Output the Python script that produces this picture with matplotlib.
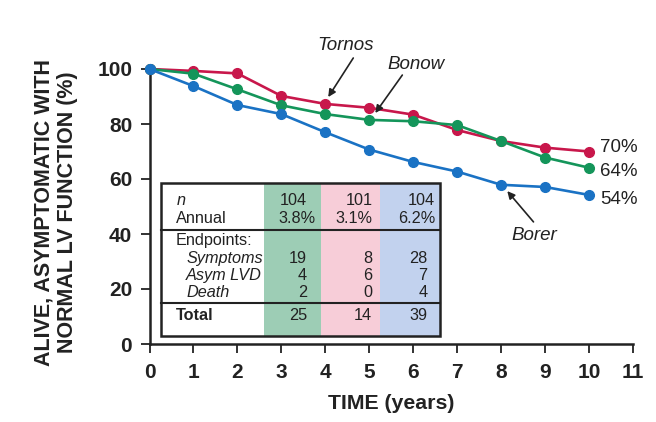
import matplotlib
matplotlib.use("Agg")
import matplotlib.pyplot as plt
from matplotlib.patches import Rectangle

plt.rcParams['font.family'] = ['Liberation Sans', 'DejaVu Sans']

years = [0, 1, 2, 3, 4, 5, 6, 7, 8, 9, 10]
tornos = [100, 99.3, 98.4, 90.2, 87.3, 85.9, 83.4, 77.8, 73.8, 71.4, 70.0]
bonow = [100, 98.3, 92.6, 86.8, 83.6, 81.5, 81.0, 79.6, 73.8, 67.8, 64.1]
borer = [100, 93.8, 86.9, 83.6, 77.0, 70.7, 66.2, 62.7, 57.9, 57.1, 54.2]
end_labels = ["70%", "64%", "54%"]

row_labels = ["n", "Annual", "Endpoints:", "Symptoms", "Asym LVD", "Death", "Total"]
col_n = ["104", "101", "104"]
col_annual = ["3.8%", "3.1%", "6.2%"]
col_symptoms = ["19", "8", "28"]
col_asym = ["4", "6", "7"]
col_death = ["2", "0", "4"]
col_total = ["25", "14", "39"]

c_red = "#c8174b"
c_green = "#14955a"
c_blue = "#1a72c4"
fill_cols = ["#9dcdb5", "#f7cdd8", "#c2d2ee"]
tc = '#222222'

fig = plt.figure(figsize=(6.56, 4.22), dpi=100)
ax = fig.add_axes([149.5/656, 78/422, (633-149.5)/656, (344-69)/422])
ax.set_xlim(0, 11)
ax.set_ylim(0, 100)

for y, c in [(tornos, c_red), (bonow, c_green), (borer, c_blue)]:
    ax.plot(years, y, color=c, lw=1.9, marker='o', ms=7, clip_on=False, zorder=3)

for spine in ['top', 'right']:
    ax.spines[spine].set_visible(False)
for spine in ['left', 'bottom']:
    ax.spines[spine].set_linewidth(1.8)
    ax.spines[spine].set_color(tc)

ax.set_xticks(range(0, 12))
ax.set_yticks([0, 20, 40, 60, 80, 100])
ax.tick_params(direction='out', length=6.5, width=1.3, colors=tc, labelsize=15)
ax.tick_params(axis='y', pad=6)
ax.tick_params(axis='x', pad=7)
for lab in ax.get_xticklabels() + ax.get_yticklabels():
    lab.set_fontweight('bold')

ax.set_xlabel("TIME (years)", fontsize=15.3, fontweight='bold', labelpad=9, color=tc)
fig.text(55.5/656, 1 - 212/422, "ALIVE, ASYMPTOMATIC WITH\nNORMAL LV FUNCTION (%)",
         fontsize=15.5, fontweight='bold', color=tc, rotation=90, ha='center',
         va='center', linespacing=1.15, multialignment='center')

# end labels
for lab, yv in zip(end_labels, [71.3, 62.7, 52.4]):
    ax.text(10.26, yv, lab, fontsize=13.5, va='center', ha='left', color=tc)

# annotations
def arrow(tail, tip):
    ax.annotate("", xy=tip, xytext=tail, annotation_clip=False,
                arrowprops=dict(arrowstyle='-|>', color=tc, lw=1.2, mutation_scale=11,
                                shrinkA=0, shrinkB=0))

ax.text(4.45, 108.5, "Tornos", fontsize=13.5, style='italic', ha='center', va='center', color=tc)
arrow((4.636, 104.0), (4.066, 89.8))
ax.text(6.07, 101.8, "Bonow", fontsize=13.5, style='italic', ha='center', va='center', color=tc)
arrow((5.752, 97.8), (5.137, 84.0))
ax.text(8.75, 39.6, "Borer", fontsize=13.5, style='italic', ha='center', va='center', color=tc)
arrow((8.736, 44.4), (8.14, 55.6))

# table
x_left, x_right = 0.26, 6.62
y_bot, y_top = 3.0, 58.7
col_edges = [2.61, 3.91, 5.25, 6.62]
ax.add_patch(Rectangle((x_left, y_bot), x_right-x_left, y_top-y_bot,
                       facecolor='white', edgecolor='none', zorder=3.5))
for i in range(3):
    ax.add_patch(Rectangle((col_edges[i], y_bot), col_edges[i+1]-col_edges[i], y_top-y_bot,
                           facecolor=fill_cols[i], edgecolor='none', zorder=4))
ax.add_patch(Rectangle((x_left, y_bot), x_right-x_left, y_top-y_bot, facecolor='none',
                       edgecolor=tc, lw=1.8, zorder=6))
for yl in [41.5, 14.9]:
    ax.plot([x_left, x_right], [yl, yl], color=tc, lw=1.5, zorder=6)

def ypix(p):
    return (344 - p) / 2.75

def xpix(p):
    return (p - 149.5) / 43.9

fs = 11.7
row_y = [200.7, 218.5, 241, 258.3, 275.5, 292.5, 315.7]
row_x = [176.5, 176, 176, 186, 186, 186, 176]
row_style = ['italic', 'normal', 'normal', 'italic', 'italic', 'italic', 'normal']
row_weight = ['normal'] * 6 + ['bold']
for lab, yp, xp, st, wt in zip(row_labels, row_y, row_x, row_style, row_weight):
    ax.text(xpix(xp), ypix(yp), lab, fontsize=fs, style=st, fontweight=wt,
            va='center', ha='left', zorder=7, color=tc)

right_top = [307, 372, 435]
right_annual = [315, 372, 435]
right_low = [307, 372, 427]
for i in range(3):
    ax.text(xpix(right_top[i]), ypix(row_y[0]), col_n[i], fontsize=fs, ha='right', va='center', zorder=7, color=tc)
    ax.text(xpix(right_annual[i]), ypix(row_y[1]), col_annual[i], fontsize=fs, ha='right', va='center', zorder=7, color=tc)
    for vals, yp in [(col_symptoms, row_y[3]), (col_asym, row_y[4]), (col_death, row_y[5]), (col_total, row_y[6])]:
        ax.text(xpix(right_low[i]), ypix(yp), vals[i], fontsize=fs, ha='right', va='center', zorder=7, color=tc)

fig.savefig("out.png", dpi=100)
